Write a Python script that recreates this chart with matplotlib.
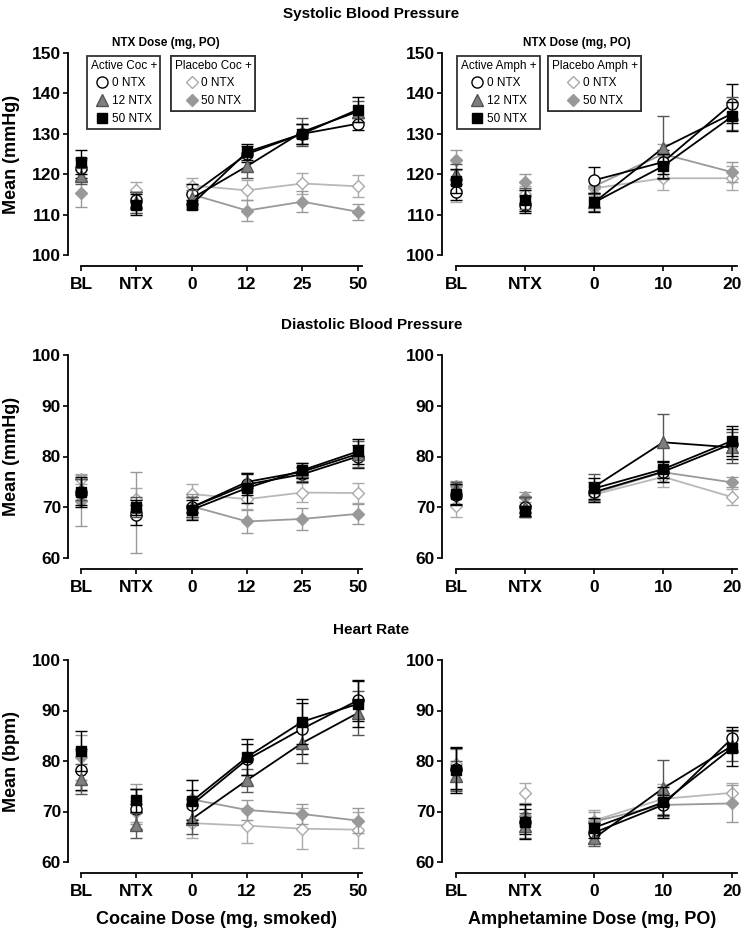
import matplotlib
matplotlib.use("Agg")
import matplotlib.pyplot as plt
from matplotlib.lines import Line2D

plt.rcParams['font.family'] = ['Liberation Sans', 'DejaVu Sans']

# x categories
coc_labels = ['BL', 'NTX', '0', '12', '25', '50']
amph_labels = ['BL', 'NTX', '0', '10', '20']

# Systolic, cocaine (BL, NTX, 0, 12, 25, 50)
coc_sbp_a0 = [121.5, 113.5, 115.0, 125.0, 130.0, 132.5]
coc_sbp_a12 = [119.5, 113.0, 114.0, 122.0, 130.5, 135.5]
coc_sbp_a50 = [123.0, 112.5, 112.5, 125.5, 130.0, 136.0]
coc_sbp_p0 = [121.0, 116.0, 117.2, 116.0, 117.7, 117.0]
coc_sbp_p50 = [115.3, 113.0, 115.0, 111.0, 113.2, 110.7]
coc_sbp_a0_se = [2.5, 2.0, 2.5, 2.0, 2.5, 1.5]
coc_sbp_a12_se = [2.0, 2.5, 2.0, 3.0, 3.5, 2.5]
coc_sbp_a50_se = [3.0, 2.5, 1.0, 2.0, 2.5, 3.0]
coc_sbp_p0_se = [2.5, 2.0, 1.8, 2.5, 2.5, 2.7]
coc_sbp_p50_se = [3.3, 2.5, 2.5, 2.5, 2.6, 2.0]

# Systolic, amphetamine (BL, NTX, 0, 10, 20)
amph_sbp_a0 = [115.5, 112.5, 118.5, 123.0, 137.5]
amph_sbp_a12 = [120.0, 114.0, 113.0, 126.5, 135.0]
amph_sbp_a50 = [118.3, 113.5, 113.0, 122.0, 134.3]
amph_sbp_p0 = [116.0, 115.0, 116.5, 119.0, 119.0]
amph_sbp_p50 = [123.5, 118.0, 117.0, 125.0, 120.5]
amph_sbp_a0_se = [2.0, 2.0, 3.2, 3.0, 4.8]
amph_sbp_a12_se = [2.5, 2.5, 2.0, 7.8, 4.0]
amph_sbp_a50_se = [3.0, 2.5, 2.3, 3.0, 3.5]
amph_sbp_p0_se = [3.0, 2.0, 2.0, 3.0, 3.0]
amph_sbp_p50_se = [2.5, 2.0, 2.0, 2.5, 2.5]

# Diastolic, cocaine
coc_dbp_a0 = [73.0, 68.5, 70.0, 74.5, 76.5, 80.0]
coc_dbp_a12 = [73.5, 70.0, 70.0, 75.0, 77.0, 80.5]
coc_dbp_a50 = [73.0, 70.0, 69.5, 73.8, 77.3, 81.0]
coc_dbp_p0 = [75.6, 71.7, 72.6, 71.6, 72.9, 72.8]
coc_dbp_p50 = [71.3, 69.0, 70.2, 67.2, 67.7, 68.7]
coc_dbp_a0_se = [2.5, 2.0, 2.0, 2.0, 1.5, 2.2]
coc_dbp_a12_se = [2.0, 2.0, 2.0, 1.7, 1.8, 2.5]
coc_dbp_a50_se = [3.0, 1.5, 2.0, 3.0, 1.5, 2.5]
coc_dbp_p0_se = [1.0, 2.0, 2.0, 2.0, 1.8, 2.0]
coc_dbp_p50_se = [5.0, 8.0, 2.5, 2.2, 2.1, 2.0]

# Diastolic, amphetamine
amph_dbp_a0 = [72.5, 70.0, 73.0, 77.0, 82.5]
amph_dbp_a12 = [73.5, 70.0, 74.0, 82.8, 81.8]
amph_dbp_a50 = [72.6, 69.3, 73.7, 77.5, 83.1]
amph_dbp_p0 = [70.3, 70.4, 72.5, 76.0, 72.0]
amph_dbp_p50 = [74.1, 72.0, 72.8, 76.9, 74.9]
amph_dbp_a0_se = [2.0, 2.0, 2.0, 2.0, 3.0]
amph_dbp_a12_se = [1.5, 2.0, 2.5, 5.5, 3.0]
amph_dbp_a50_se = [2.0, 1.0, 2.0, 1.7, 3.0]
amph_dbp_p0_se = [2.3, 1.5, 1.5, 2.0, 1.5]
amph_dbp_p50_se = [1.0, 1.0, 1.5, 2.0, 1.0]

# Heart rate, cocaine
coc_hr_a0 = [78.3, 70.5, 71.3, 80.3, 86.4, 92.0]
coc_hr_a12 = [76.4, 67.3, 68.5, 76.2, 83.6, 89.5]
coc_hr_a50 = [82.0, 72.2, 72.0, 80.8, 87.8, 91.3]
coc_hr_p0 = [78.0, 70.0, 67.7, 67.2, 66.6, 66.4]
coc_hr_p50 = [80.7, 71.5, 72.4, 70.3, 69.5, 68.2]
coc_hr_a0_se = [4.0, 4.0, 3.0, 3.0, 5.0, 4.0]
coc_hr_a12_se = [3.0, 2.5, 3.0, 2.3, 4.0, 4.3]
coc_hr_a50_se = [4.0, 2.3, 4.2, 3.5, 4.4, 4.5]
coc_hr_p0_se = [4.0, 2.0, 3.0, 3.5, 4.0, 3.6]
coc_hr_p50_se = [4.5, 4.0, 3.8, 2.0, 2.0, 2.5]

# Heart rate, amphetamine
amph_hr_a0 = [78.5, 68.0, 65.8, 71.3, 84.5]
amph_hr_a12 = [77.0, 67.2, 64.7, 74.6, 83.0]
amph_hr_a50 = [78.2, 68.0, 66.8, 71.8, 82.6]
amph_hr_p0 = [79.5, 73.7, 68.2, 72.5, 73.7]
amph_hr_p50 = [78.3, 69.2, 68.0, 71.3, 71.6]
amph_hr_a0_se = [4.0, 2.5, 2.0, 2.0, 2.3]
amph_hr_a12_se = [3.0, 2.5, 1.5, 5.5, 3.0]
amph_hr_a50_se = [4.5, 3.5, 2.0, 3.0, 3.5]
amph_hr_p0_se = [3.0, 2.0, 2.0, 3.0, 2.0]
amph_hr_p50_se = [4.0, 2.0, 2.0, 2.0, 3.7]

W, H = 743, 931

# marker / line styles for each group (P0, P50, A0, A12, A50)
styles = {
    'p0': dict(marker='D', mfc='white', mec='#aaaaaa', ms=6, line='#b8b8b8', err='#aaaaaa'),
    'p50': dict(marker='D', mfc='#999999', mec='#999999', ms=6, line='#999999', err='#999999'),
    'a0': dict(marker='o', mfc='white', mec='black', ms=8, line='black', err='black'),
    'a12': dict(marker='^', mfc='#7f7f7f', mec='#555555', ms=8, line='black', err='#555555'),
    'a50': dict(marker='s', mfc='black', mec='black', ms=7.5, line='black', err='black'),
}


def rect(left, top, right, bottom):
    return [left / W, 1 - bottom / H, (right - left) / W, (bottom - top) / H]


def draw_panel(ax, labels, series, ylim, yticks, xlim, xend):
    x = list(range(len(labels)))
    z = 3
    for key in ['p0', 'p50', 'a0', 'a12', 'a50']:
        vals, se = series[key]
        st = styles[key]
        ax.errorbar(x, vals, yerr=se, fmt='none', ecolor=st['err'],
                    elinewidth=1, capsize=4, capthick=1, zorder=z, clip_on=False)
        ax.plot(x[2:], vals[2:], color=st['line'], lw=1.3, zorder=z + 0.5)
        ax.plot(x, vals, linestyle='none', marker=st['marker'], mfc=st['mfc'],
                mec=st['mec'], ms=st['ms'], mew=1, zorder=z + 1, clip_on=False)
        z += 2
    ax.set_xlim(*xlim)
    ax.set_ylim(*ylim)
    ax.set_xticks(x)
    ax.set_xticklabels(labels)
    ax.set_yticks(yticks)
    for s in ['top', 'right']:
        ax.spines[s].set_visible(False)
    ax.spines['left'].set_bounds(ylim[0], ylim[1])
    ax.spines['bottom'].set_bounds(0, xend)
    ax.spines['bottom'].set_position(('outward', 8))
    for s in ['left', 'bottom']:
        ax.spines[s].set_linewidth(1.3)
    ax.tick_params(axis='y', direction='out', length=3.5, width=1.2, pad=1.5,
                   labelsize=12.5)
    ax.tick_params(axis='x', direction='out', length=3.5, width=1.2, pad=4,
                   labelsize=12.5)
    for t in ax.get_xticklabels() + ax.get_yticklabels():
        t.set_fontweight('bold')


fig = plt.figure(figsize=(W / 100, H / 100), dpi=100)

rows = [
    (53, 255, (100, 150), [100, 110, 120, 130, 140, 150],
     dict(p0=(coc_sbp_p0, coc_sbp_p0_se), p50=(coc_sbp_p50, coc_sbp_p50_se),
          a0=(coc_sbp_a0, coc_sbp_a0_se), a12=(coc_sbp_a12, coc_sbp_a12_se),
          a50=(coc_sbp_a50, coc_sbp_a50_se)),
     dict(p0=(amph_sbp_p0, amph_sbp_p0_se), p50=(amph_sbp_p50, amph_sbp_p50_se),
          a0=(amph_sbp_a0, amph_sbp_a0_se), a12=(amph_sbp_a12, amph_sbp_a12_se),
          a50=(amph_sbp_a50, amph_sbp_a50_se)),
     'Mean (mmHg)'),
    (355, 558, (60, 100), [60, 70, 80, 90, 100],
     dict(p0=(coc_dbp_p0, coc_dbp_p0_se), p50=(coc_dbp_p50, coc_dbp_p50_se),
          a0=(coc_dbp_a0, coc_dbp_a0_se), a12=(coc_dbp_a12, coc_dbp_a12_se),
          a50=(coc_dbp_a50, coc_dbp_a50_se)),
     dict(p0=(amph_dbp_p0, amph_dbp_p0_se), p50=(amph_dbp_p50, amph_dbp_p50_se),
          a0=(amph_dbp_a0, amph_dbp_a0_se), a12=(amph_dbp_a12, amph_dbp_a12_se),
          a50=(amph_dbp_a50, amph_dbp_a50_se)),
     'Mean (mmHg)'),
    (660, 862, (60, 100), [60, 70, 80, 90, 100],
     dict(p0=(coc_hr_p0, coc_hr_p0_se), p50=(coc_hr_p50, coc_hr_p50_se),
          a0=(coc_hr_a0, coc_hr_a0_se), a12=(coc_hr_a12, coc_hr_a12_se),
          a50=(coc_hr_a50, coc_hr_a50_se)),
     dict(p0=(amph_hr_p0, amph_hr_p0_se), p50=(amph_hr_p50, amph_hr_p50_se),
          a0=(amph_hr_a0, amph_hr_a0_se), a12=(amph_hr_a12, amph_hr_a12_se),
          a50=(amph_hr_a50, amph_hr_a50_se)),
     'Mean (bpm)'),
]

axes = []
for top, bottom, ylim, yticks, coc, amph, ylab in rows:
    axl = fig.add_axes(rect(68, top, 365, bottom))
    draw_panel(axl, coc_labels, coc, ylim, yticks, (-0.235, 5.13), 5.08)
    axr = fig.add_axes(rect(442, top, 739, bottom))
    draw_panel(axr, amph_labels, amph, ylim, yticks, (-0.203, 4.1), 4.07)
    fig.text(12 / W, 1 - (top + bottom) / 2 / H, ylab, rotation=90,
             ha='center', va='center', fontsize=13, fontweight='bold')
    axes.append((axl, axr))

# panel titles
fig.text(0.5, 1 - 14 / H, 'Systolic Blood Pressure', ha='center', va='center',
         fontsize=11, fontweight='bold')
fig.text(0.5, 1 - 325 / H, 'Diastolic Blood Pressure', ha='center', va='center',
         fontsize=11, fontweight='bold')
fig.text(0.5, 1 - 630 / H, 'Heart Rate', ha='center', va='center',
         fontsize=11, fontweight='bold')

# x labels
fig.text(217 / W, 1 - 920 / H, 'Cocaine Dose (mg, smoked)', ha='center',
         va='center', fontsize=13, fontweight='bold')
fig.text(592 / W, 1 - 920 / H, 'Amphetamine Dose (mg, PO)', ha='center',
         va='center', fontsize=13, fontweight='bold')


# legends in the systolic panels
def handle(key):
    st = styles[key]
    return Line2D([], [], linestyle='none', marker=st['marker'], mfc=st['mfc'],
                  mec=st['mec'], ms=st['ms'], mew=1)


def box_legend(ax, keys, names, title, left, top):
    leg = ax.legend([handle(k) for k in keys], names, title=title,
                    loc='upper left', bbox_to_anchor=(left / W, 1 - top / H),
                    bbox_transform=fig.transFigure, fontsize=8.5,
                    title_fontsize=8.5, frameon=True, fancybox=False,
                    edgecolor='#333333', framealpha=1, borderpad=0.3,
                    labelspacing=0.5, handlelength=1.2, handletextpad=0.2,
                    borderaxespad=0)
    leg.get_frame().set_linewidth(1.3)
    ax.add_artist(leg)
    return leg


axl, axr = axes[0]
box_legend(axl, ['a0', 'a12', 'a50'], ['0 NTX', '12 NTX', '50 NTX'],
           'Active Coc +', 87, 56)
box_legend(axl, ['p0', 'p50'], ['0 NTX', '50 NTX'], 'Placebo Coc +', 171, 56)
box_legend(axr, ['a0', 'a12', 'a50'], ['0 NTX', '12 NTX', '50 NTX'],
           'Active Amph +', 457, 56)
box_legend(axr, ['p0', 'p50'], ['0 NTX', '50 NTX'], 'Placebo Amph +', 548, 56)
fig.text(166 / W, 1 - 43 / H, 'NTX Dose (mg, PO)', ha='center', va='center',
         fontsize=8.5, fontweight='bold')
fig.text(577 / W, 1 - 43 / H, 'NTX Dose (mg, PO)', ha='center', va='center',
         fontsize=8.5, fontweight='bold')

fig.savefig('out.png', dpi=100)
